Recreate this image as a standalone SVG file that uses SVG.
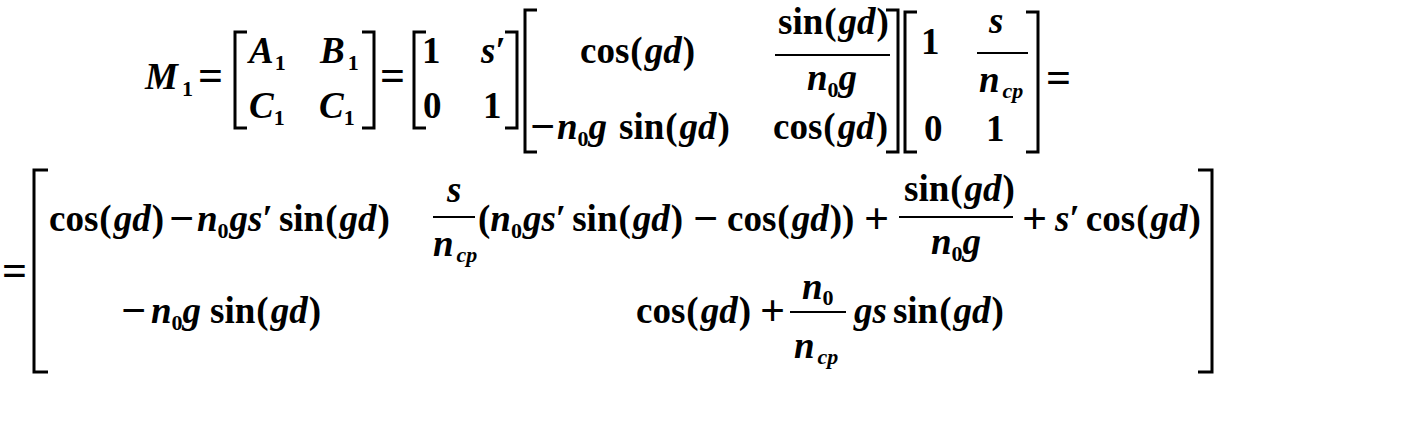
<svg xmlns="http://www.w3.org/2000/svg" width="1404" height="437" viewBox="0 0 1404 437">
<style>
text { font-family: "Liberation Serif", "Times New Roman", "DejaVu Serif", serif; font-weight: bold; font-size: 37px; fill: #000; }
.i { font-style: italic; }
.sub { font-size: 22px; }
.op { font-size: 44px; }
.br { fill: none; stroke: #000; stroke-width: 3; }
.fr { stroke: #000; stroke-width: 2; }
</style>
<rect width="1404" height="437" fill="#fff"/>
<g id="line1">
  <g id="lhs">
    <text x="145" y="89"><tspan class="i">M</tspan><tspan class="sub" dx="4" dy="7">1</tspan></text>
    <text class="op" x="198" y="90">=</text>
  </g>
  <g id="matrixAB">
    <path class="br" d="M247 32H235V128H247"/>
    <path class="br" d="M362 32H374V128H362"/>
    <text x="249" y="63"><tspan class="i">A</tspan><tspan class="sub" dx="1" dy="7">1</tspan></text>
    <text x="320" y="63"><tspan class="i">B</tspan><tspan class="sub" dx="3" dy="7">1</tspan></text>
    <text x="249" y="118"><tspan class="i">C</tspan><tspan class="sub" dx="0" dy="7">1</tspan></text>
    <text x="319" y="118"><tspan class="i">C</tspan><tspan class="sub" dx="0" dy="7">1</tspan></text>
    <text class="op" x="380" y="90">=</text>
  </g>
  <g id="matrixS">
    <path class="br" d="M426 32H414V128H426"/>
    <path class="br" d="M505 32H517V128H505"/>
    <text x="422" y="63">1</text>
    <text x="481" y="63"><tspan class="i">s</tspan>′</text>
    <text x="423" y="118">0</text>
    <text x="483" y="118">1</text>
  </g>
  <g id="matrixG">
    <path class="br" d="M537 10H525V152H537"/>
    <path class="br" d="M886 10H898V152H886"/>
    <text x="580" y="63">cos<tspan dx="1">(</tspan><tspan class="i" dx="2">gd</tspan><tspan dx="1">)</tspan></text>
    <text x="778" y="34">sin<tspan dx="1">(</tspan><tspan class="i" dx="2">gd</tspan><tspan dx="1">)</tspan></text>
    <line class="fr" x1="775" y1="55" x2="890" y2="55"/>
    <text x="807" y="90"><tspan class="i">n</tspan><tspan class="sub" dy="7">0</tspan><tspan class="i" dy="-7">g</tspan></text>
    <text class="op" x="530" y="141">−</text>
    <text x="557" y="139"><tspan class="i">n</tspan><tspan class="sub" dy="7">0</tspan><tspan class="i" dy="-7">g</tspan></text>
    <text x="619" y="139">sin<tspan dx="1">(</tspan><tspan class="i" dx="2">gd</tspan><tspan dx="1">)</tspan></text>
    <text x="773" y="139">cos<tspan dx="1">(</tspan><tspan class="i" dx="2">gd</tspan><tspan dx="1">)</tspan></text>
  </g>
  <g id="matrixN">
    <path class="br" d="M917 12H905V152H917"/>
    <path class="br" d="M1026 12H1038V152H1026"/>
    <text x="921" y="54">1</text>
    <text x="989" y="33" class="i">s</text>
    <line class="fr" x1="977" y1="53" x2="1028" y2="53"/>
    <text x="979" y="92"><tspan class="i">n</tspan><tspan class="sub i" dx="3" dy="6">cp</tspan></text>
    <text x="924" y="141">0</text>
    <text x="986" y="141">1</text>
    <text class="op" x="1046" y="92">=</text>
  </g>
</g>
<g id="line2">
  <text class="op" x="2" y="285">=</text>
  <path class="br" d="M48 170H34V372H48"/>
  <path class="br" d="M1198 170H1212V372H1198"/>
  <g id="m11">
    <text x="49" y="231">cos<tspan dx="1">(</tspan><tspan class="i" dx="2">gd</tspan><tspan dx="1">)</tspan></text>
    <text class="op" x="169" y="233">−</text>
    <text x="197" y="231"><tspan class="i">n</tspan><tspan class="sub" dy="7">0</tspan><tspan class="i" dy="-7" dx="1">gs</tspan>′<tspan dx="6">sin</tspan><tspan dx="1">(</tspan><tspan class="i" dx="2">gd</tspan><tspan dx="1">)</tspan></text>
  </g>
  <g id="m12">
    <text x="447" y="202" class="i">s</text>
    <line class="fr" x1="433" y1="217" x2="475" y2="217"/>
    <text x="433" y="256"><tspan class="i">n</tspan><tspan class="sub i" dx="3" dy="6">cp</tspan></text>
    <text x="478" y="231">(<tspan class="i">n</tspan><tspan class="sub" dy="7">0</tspan><tspan class="i" dy="-7" dx="1">gs</tspan>′<tspan dx="6">sin</tspan><tspan dx="1">(</tspan><tspan class="i" dx="2">gd</tspan><tspan dx="1">)</tspan></text>
    <text class="op" x="693" y="233">−</text>
    <text x="727" y="231">cos<tspan dx="1">(</tspan><tspan class="i" dx="2">gd</tspan><tspan dx="1">))</tspan></text>
    <text class="op" x="864" y="233">+</text>
    <text x="904" y="201">sin<tspan dx="1">(</tspan><tspan class="i" dx="2">gd</tspan><tspan dx="1">)</tspan></text>
    <line class="fr" x1="899" y1="217" x2="1013" y2="217"/>
    <text x="931" y="254"><tspan class="i">n</tspan><tspan class="sub" dy="7">0</tspan><tspan class="i" dy="-7">g</tspan></text>
    <text class="op" x="1022" y="233">+</text>
    <text x="1055" y="231"><tspan class="i">s</tspan>′<tspan dx="6">cos</tspan><tspan dx="1">(</tspan><tspan class="i" dx="2">gd</tspan><tspan dx="1">)</tspan></text>
  </g>
  <g id="m21">
    <text class="op" x="121" y="325">−</text>
    <text x="151" y="323"><tspan class="i">n</tspan><tspan class="sub" dy="7">0</tspan><tspan class="i" dy="-7">g</tspan><tspan dx="9">sin</tspan><tspan dx="1">(</tspan><tspan class="i" dx="2">gd</tspan><tspan dx="1">)</tspan></text>
  </g>
  <g id="m22">
    <text x="636" y="323">cos<tspan dx="1">(</tspan><tspan class="i" dx="2">gd</tspan><tspan dx="1">)</tspan></text>
    <text class="op" x="760" y="325">+</text>
    <text x="802" y="299"><tspan class="i">n</tspan><tspan class="sub" dy="6">0</tspan></text>
    <line class="fr" x1="790" y1="312" x2="846" y2="312"/>
    <text x="794" y="358"><tspan class="i">n</tspan><tspan class="sub i" dx="3" dy="6">cp</tspan></text>
    <text x="854" y="323"><tspan class="i">gs</tspan><tspan dx="6">sin</tspan><tspan dx="1">(</tspan><tspan class="i" dx="2">gd</tspan><tspan dx="1">)</tspan></text>
  </g>
</g>
</svg>
